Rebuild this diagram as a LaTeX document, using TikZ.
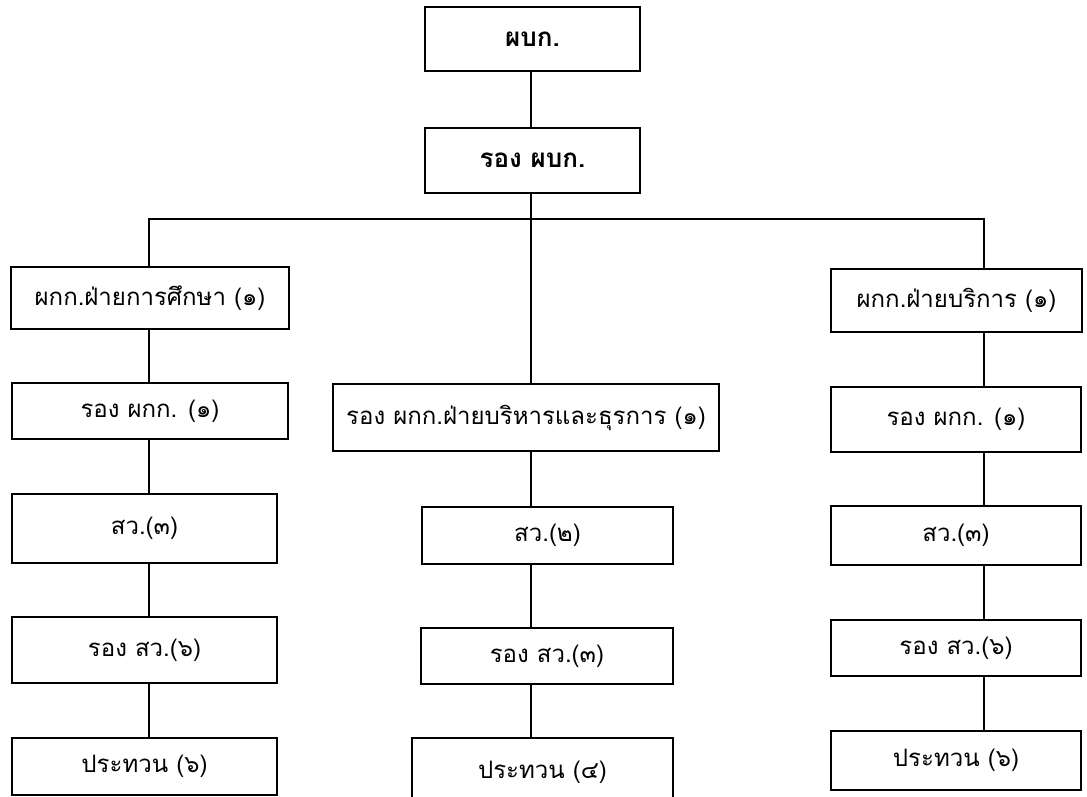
\documentclass[tikz,border=0pt]{standalone}
\usepackage{fontspec}
\newfontfamily\thaifont[Script=Thai]{Loma}
\begin{document}
\begin{tikzpicture}[x=1pt,y=-1pt,
  box/.style={draw=black,line width=1.2pt,rectangle,inner sep=0pt,font=\thaifont\fontsize{24}{29}\selectfont},
  bbox/.style={box,font=\thaifont\bfseries\fontsize{26}{31}\selectfont},
  conn/.style={draw=black,line width=1.2pt}]
\useasboundingbox[fill=white] (0,0) rectangle (1087,796);
\node[bbox,minimum width=215pt,minimum height=64pt] (top) at (532.5,39) {ผบก.};
\node[bbox,minimum width=215pt,minimum height=65pt] (rpb) at (532.5,160.5) {รอง ผบก.};
% left column
\node[box,minimum width=278pt,minimum height=62pt] (L1) at (150,298) {ผกก.ฝ่ายการศึกษา (๑)};
\node[box,minimum width=276pt,minimum height=56pt] (L2) at (150,411) {รอง ผกก. (๑)};
\node[box,minimum width=265pt,minimum height=69pt] (L3) at (144.5,528.5) {สว.(๓)};
\node[box,minimum width=265pt,minimum height=66pt] (L4) at (144.5,650) {รอง สว.(๖)};
\node[box,minimum width=265pt,minimum height=57pt] (L5) at (144.5,766.5) {ประทวน (๖)};
% middle column
\node[box,minimum width=386pt,minimum height=67pt] (M1) at (526,417.5) {รอง ผกก.ฝ่ายบริหารและธุรการ (๑)};
\node[box,minimum width=251pt,minimum height=57pt] (M2) at (547.5,535.5) {สว.(๒)};
\node[box,minimum width=252pt,minimum height=56pt] (M3) at (547,656) {รอง สว.(๓)};
\node[box,minimum width=261pt,minimum height=68pt] (M4) at (542.5,772) {ประทวน (๔)};
% right column
\node[box,minimum width=251pt,minimum height=63pt] (R1) at (956.5,300.5) {ผกก.ฝ่ายบริการ (๑)};
\node[box,minimum width=250pt,minimum height=65pt] (R2) at (956,419.5) {รอง ผกก. (๑)};
\node[box,minimum width=250pt,minimum height=59pt] (R3) at (956,535.5) {สว.(๓)};
\node[box,minimum width=250pt,minimum height=56pt] (R4) at (956,648) {รอง สว.(๖)};
\node[box,minimum width=250pt,minimum height=59pt] (R5) at (956,760.5) {ประทวน (๖)};
% guide coordinates
\coordinate (xc) at (531,0);
\coordinate (xl) at (149,0);
\coordinate (xr) at (984,0);
\coordinate (bus) at (531,219);
% connectors
\draw[conn] (top.south -| xc) -- (rpb.north -| xc);
\draw[conn] (rpb.south -| xc) -- (M1.north -| xc);
\draw[conn] (L1.north -| xl) |- (bus) -| (R1.north -| xr);
\draw[conn] (L1.south -| xl) -- (L2.north -| xl);
\draw[conn] (L2.south -| xl) -- (L3.north -| xl);
\draw[conn] (L3.south -| xl) -- (L4.north -| xl);
\draw[conn] (L4.south -| xl) -- (L5.north -| xl);
\draw[conn] (M1.south -| xc) -- (M2.north -| xc);
\draw[conn] (M2.south -| xc) -- (M3.north -| xc);
\draw[conn] (M3.south -| xc) -- (M4.north -| xc);
\draw[conn] (R1.south -| xr) -- (R2.north -| xr);
\draw[conn] (R2.south -| xr) -- (R3.north -| xr);
\draw[conn] (R3.south -| xr) -- (R4.north -| xr);
\draw[conn] (R4.south -| xr) -- (R5.north -| xr);
\end{tikzpicture}
\end{document}
